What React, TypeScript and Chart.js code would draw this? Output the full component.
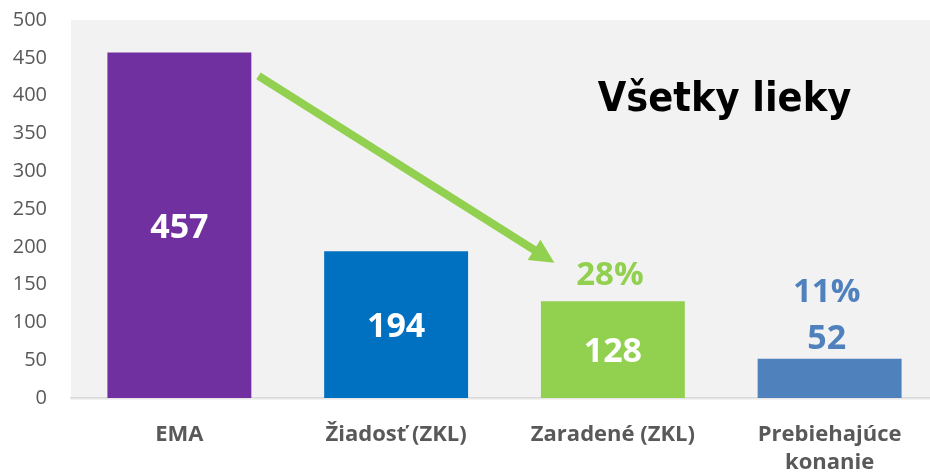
import { useEffect, useRef } from "react";
import { Chart, registerables } from "chart.js";

Chart.register(...registerables);

const categories: (string | string[])[] = ["EMA", "Žiadosť (ZKL)", "Zaradené (ZKL)", ["Prebiehajúce", "konanie"]];
const values = [457, 194, 128, 52];
const barColors = ["#7030a0", "#0070c0", "#92d050", "#4f81bd"];
const valueInside = [true, true, true, false];
const valueLabelColors = ["#ffffff", "#ffffff", "#ffffff", "#4f81bd"];
const percentLabels = ["", "", "28%", "11%"];
const percentColors = ["", "", "#92d050", "#4f81bd"];
const yMin = 0;
const yMax = 500;
const yStep = 50;
const titleText = "Všetky lieky";
// arrow annotation in data space: [category index, value]
const arrowFrom = [0.365, 426];
const arrowTo = [1.73, 179];
const titleAt = [2.515, 394];

const bgPlugin = {
  id: "bgPlugin",
  beforeDraw(chart: any) {
    const { ctx, chartArea, width, height } = chart;
    ctx.save();
    ctx.fillStyle = "#ffffff";
    ctx.fillRect(0, 0, width, height);
    ctx.fillStyle = "#f2f2f2";
    ctx.fillRect(chartArea.left, chartArea.top, chartArea.right - chartArea.left, chartArea.bottom - chartArea.top + 2);
    ctx.restore();
  },
};

const labelPlugin = {
  id: "labelPlugin",
  afterDatasetsDraw(chart: any) {
    const { ctx, scales } = chart;
    const meta = chart.getDatasetMeta(0);
    ctx.save();
    ctx.textAlign = "center";
    ctx.textBaseline = "middle";
    meta.data.forEach((bar: any, i: number) => {
      const { x, y, base } = bar.getProps(["x", "y", "base"], true);
      ctx.font = "bold 34px 'Open Sans'";
      ctx.fillStyle = valueLabelColors[i];
      let topOfLabel = y;
      if (valueInside[i]) {
        ctx.fillText(String(values[i]), x, (y + base) / 2 + 3);
      } else {
        ctx.fillText(String(values[i]), x - 3, y - 19);
        topOfLabel = y - 40;
      }
      if (percentLabels[i]) {
        ctx.fillStyle = percentColors[i];
        ctx.font = "bold 33px 'Open Sans'";
        ctx.fillText(percentLabels[i], x - 3, topOfLabel - 26);
      }
    });

    // title
    ctx.fillStyle = "#000000";
    ctx.font = "bold 41px 'DejaVu Sans Condensed', 'DejaVu Sans'";
    ctx.fillText(titleText, scales.x.getPixelForValue(titleAt[0]), scales.y.getPixelForValue(titleAt[1]));

    // arrow
    const x1 = scales.x.getPixelForValue(arrowFrom[0]);
    const y1 = scales.y.getPixelForValue(arrowFrom[1]);
    const x2 = scales.x.getPixelForValue(arrowTo[0]);
    const y2 = scales.y.getPixelForValue(arrowTo[1]);
    const ang = Math.atan2(y2 - y1, x2 - x1);
    const headLen = 24;
    const headHalf = 12;
    const bx = x2 - headLen * Math.cos(ang);
    const by = y2 - headLen * Math.sin(ang);
    ctx.strokeStyle = "#92d050";
    ctx.fillStyle = "#92d050";
    ctx.lineWidth = 8;
    ctx.lineCap = "butt";
    ctx.beginPath();
    ctx.moveTo(x1, y1);
    ctx.lineTo(bx + 2 * Math.cos(ang), by + 2 * Math.sin(ang));
    ctx.stroke();
    ctx.beginPath();
    ctx.moveTo(x2, y2);
    ctx.lineTo(bx + headHalf * Math.sin(ang), by - headHalf * Math.cos(ang));
    ctx.lineTo(bx - headHalf * Math.sin(ang), by + headHalf * Math.cos(ang));
    ctx.closePath();
    ctx.fill();
    ctx.restore();
  },
};

export default function App() {
  const ref = useRef<HTMLCanvasElement | null>(null);
  useEffect(() => {
    if (!ref.current) return;
    const chart = new Chart(ref.current, {
      type: "bar",
      data: {
        labels: categories,
        datasets: [
          {
            data: values,
            backgroundColor: barColors,
            borderWidth: 0,
            categoryPercentage: 1,
            barPercentage: 0.664,
          },
        ],
      },
      options: {
        animation: false,
        responsive: false,
        layout: { padding: { top: 20, right: 0, left: 0, bottom: 0 } },
        plugins: { legend: { display: false }, tooltip: { enabled: false } },
        scales: {
          x: {
            grid: { display: false, drawTicks: false },
            border: { display: true, color: "#d9d9d9", width: 1.5 },
            ticks: {
              color: "#595959",
              font: { family: "'Open Sans'", size: 22, weight: "bold", lineHeight: 1.25 },
              padding: 23,
              maxRotation: 0,
              autoSkip: false,
            },
            afterFit(scale: any) {
              scale.height = 76;
              scale.paddingLeft = 0;
              scale.paddingRight = 0;
            },
          },
          y: {
            min: yMin,
            max: yMax,
            grid: { display: false, drawTicks: false },
            border: { display: false },
            ticks: {
              stepSize: yStep,
              color: "#595959",
              font: { family: "'Open Sans'", size: 20 },
              padding: 24,
            },
            afterFit(scale: any) {
              scale.width = 71;
              scale.paddingTop = 0;
              scale.paddingBottom = 0;
            },
          },
        },
      },
      plugins: [bgPlugin, labelPlugin],
    });
    return () => chart.destroy();
  }, []);
  return (
    <div style={{ position: "absolute", left: 0, top: 0, width: 930, height: 474, overflow: "hidden" }}>
      <canvas ref={ref} width={938} height={474} style={{ width: 938, height: 474, display: "block" }} />
    </div>
  );
}
